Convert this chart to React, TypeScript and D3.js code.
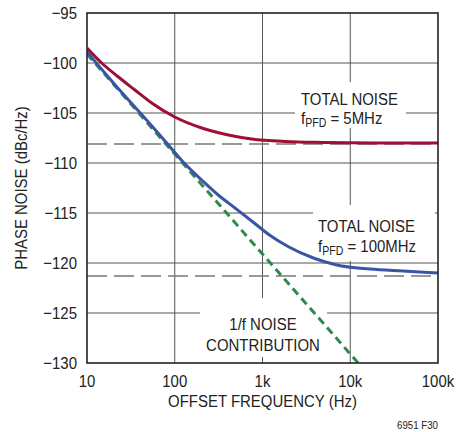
import React from "react";
import * as d3 from "d3";

const xTicks = [10, 100, 1000, 10000, 100000];
const xTickLabels = ["10", "100", "1k", "10k", "100k"];
const yTicks = [-95, -100, -105, -110, -115, -120, -125, -130];
const yTickLabels = ["−95", "−100", "−105", "−110", "−115", "−120", "−125", "−130"];

const freqRed = [10, 14.7, 22.8, 35.2, 54.6, 100, 203, 407, 753, 1800, 5000, 20000, 100000];
const noiseRed = [-98.5, -100.0, -101.4, -102.7, -104.0, -105.4, -106.5, -107.2, -107.6, -107.85, -107.95, -108.0, -108.0];

const freqBlue = [10, 20, 50, 74, 131, 203, 313, 486, 753, 1200, 2000, 3800, 7000, 16800, 40000, 100000];
const noiseBlue = [-98.9, -102.0, -105.9, -107.6, -110.1, -111.7, -113.2, -114.5, -115.8, -117.2, -118.4, -119.5, -120.2, -120.6, -120.8, -121.0];

const freqGreen = [10, 100, 1000, 10000, 12300];
const noiseGreen = [-99.1, -109.1, -119.1, -129.1, -130.0];

const floorLevels = [-108.1, -121.3];

const W = 461, H = 432;
const L = 87, R = 438, T = 13, B = 363;
const FONT = "'Liberation Sans', Arial, sans-serif";
const SX = 0.88;

function Txt(props: {
  x: number;
  y: number;
  anchor?: "start" | "middle" | "end";
  rotate?: number;
  size?: number;
  children: React.ReactNode;
}) {
  const { x, y, anchor = "start", rotate = 0, size = 17, children } = props;
  return (
    <text
      transform={`translate(${x},${y}) rotate(${rotate}) scale(${SX},1)`}
      textAnchor={anchor}
      fontFamily={FONT}
      fontSize={size}
      fill="#222"
    >
      {children}
    </text>
  );
}

export default function App() {
  const x = d3.scaleLog().domain([10, 100000]).range([L, R]);
  const y = d3.scaleLinear().domain([-130, -95]).range([B, T]);
  const line = d3
    .line<[number, number]>()
    .x((d) => x(d[0]))
    .y((d) => y(d[1]))
    .curve(d3.curveMonotoneX);
  const mk = (f: number[], n: number[]) => line(f.map((v, i) => [v, n[i]] as [number, number])) || "";

  const gridColor = "#555";
  return (
    <svg width={W} height={H} style={{ position: "absolute", left: 0, top: 0, background: "#fff" }}>
      <defs>
        <clipPath id="plot">
          <rect x={L} y={T} width={R - L} height={B - T} />
        </clipPath>
      </defs>
      {xTicks.slice(1, -1).map((t) => (
        <line key={"gx" + t} x1={x(t)} x2={x(t)} y1={T} y2={B} stroke={gridColor} strokeWidth={1} />
      ))}
      {yTicks.slice(1, -1).map((t) => (
        <line key={"gy" + t} x1={L} x2={R} y1={y(t)} y2={y(t)} stroke={gridColor} strokeWidth={1} />
      ))}
      {floorLevels.map((v) => (
        <line key={"fl" + v} x1={L} x2={R} y1={y(v)} y2={y(v)} stroke="#777" strokeWidth={1.3} strokeDasharray="20 7" />
      ))}
      <rect x={295} y={82} width={111} height={46} fill="#fff" />
      <rect x={313} y={205} width={122} height={56} fill="#fff" />
      <rect x={200} y={298} width={127} height={59} fill="#fff" />
      <g clipPath="url(#plot)" fill="none" strokeWidth={3}>
        <path d={mk(freqGreen, noiseGreen)} stroke="#2E8A4A" strokeDasharray="8 5" />
        <path d={mk(freqBlue, noiseBlue)} stroke="#3B55A5" />
        <path d={mk(freqRed, noiseRed)} stroke="#9E0F34" />
      </g>
      <rect x={L} y={T} width={R - L} height={B - T} fill="none" stroke="#222" strokeWidth={1.6} />
      {yTicks.map((t, i) => (
        <Txt key={"yl" + t} x={77} y={y(t) + 6} anchor="end">
          {yTickLabels[i]}
        </Txt>
      ))}
      {xTicks.map((t, i) => (
        <Txt key={"xl" + t} x={x(t)} y={387} anchor="middle">
          {xTickLabels[i]}
        </Txt>
      ))}
      <Txt x={(L + R) / 2} y={407} anchor="middle">OFFSET FREQUENCY (Hz)</Txt>
      <Txt x={27} y={(T + B) / 2} anchor="middle" rotate={-90}>PHASE NOISE (dBc/Hz)</Txt>
      <Txt x={301} y={105}>TOTAL NOISE</Txt>
      <Txt x={301} y={124}>
        f<tspan fontSize={12} dy={3}>PFD</tspan>
        <tspan dy={-3}> = 5MHz</tspan>
      </Txt>
      <Txt x={318} y={232}>TOTAL NOISE</Txt>
      <Txt x={318} y={252}>
        f<tspan fontSize={12} dy={3}>PFD</tspan>
        <tspan dy={-3}> = 100MHz</tspan>
      </Txt>
      <Txt x={263} y={330} anchor="middle">1/f NOISE</Txt>
      <Txt x={263} y={351} anchor="middle">CONTRIBUTION</Txt>
      <Txt x={438} y={429} anchor="end" size={11}>6951 F30</Txt>
    </svg>
  );
}
